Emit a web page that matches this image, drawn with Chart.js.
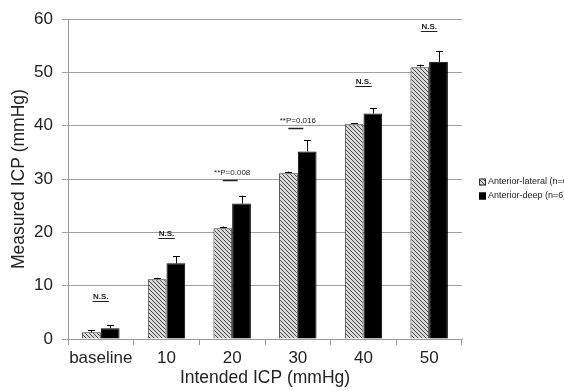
<!DOCTYPE html>
<html>
<head>
<meta charset="utf-8">
<script src="https://cdn.jsdelivr.net/npm/chart.js@4.4.1/dist/chart.umd.min.js"></script>
<style>
  html, body { margin: 0; padding: 0; background: #ffffff; }
  #wrap { width: 564px; height: 391px; }
</style>
</head>
<body>
<div id="wrap"><canvas id="c" width="564" height="391"></canvas></div>
<script>
// ---- data ----
const categories = ['baseline', '10', '20', '30', '40', '50'];
const seriesNames = ['Anterior-lateral (n=6)', 'Anterior-deep (n=6)'];
const lateralMean = [1.25, 11.2, 20.8, 31.1, 40.3, 51.0];
const lateralErr  = [0.4, 0.3, 0.3, 0.3, 0.2, 0.5];
const deepMean    = [2.0, 14.2, 25.4, 35.2, 42.3, 52.0];
const deepErr     = [0.6, 1.3, 1.5, 2.1, 1.0, 2.0];
const sigLabels   = ['N.S.', 'N.S.', '**P=0.008', '**P=0.016', 'N.S.', 'N.S.'];
const sigLevel    = [7.2, 19.0, 29.8, 39.6, 47.5, 57.7];
const yTicks      = [0, 10, 20, 30, 40, 50, 60];

const FONT = '"Liberation Sans", Arial, sans-serif';

// hatch pattern
function makeHatch() {
  const p = document.createElement('canvas');
  p.width = 4; p.height = 4;
  const g = p.getContext('2d');
  g.fillStyle = '#dadada';
  g.fillRect(0, 0, 4, 4);
  g.strokeStyle = '#444';
  g.lineWidth = 1;
  g.beginPath();
  g.moveTo(-1, -1); g.lineTo(5, 5);
  g.moveTo(-1, 3); g.lineTo(1, 5);
  g.moveTo(3, -1); g.lineTo(5, 1);
  g.stroke();
  return document.getElementById('c').getContext('2d').createPattern(p, 'repeat');
}
const hatch = makeHatch();

const errorBars = {
  id: 'errorBars',
  afterDatasetsDraw(chart) {
    const ctx = chart.ctx;
    const y = chart.scales.y;
    const errs = [lateralErr, deepErr];
    ctx.save();
    chart.data.datasets.forEach((ds, di) => {
      const meta = chart.getDatasetMeta(di);
      meta.data.forEach((el, i) => {
        const top = y.getPixelForValue(ds.data[i] + errs[di][i]);
        ctx.strokeStyle = '#000';
        ctx.lineWidth = 1;
        ctx.beginPath();
        ctx.moveTo(Math.round(el.x) + 0.5, el.y);
        ctx.lineTo(Math.round(el.x) + 0.5, top);
        ctx.moveTo(Math.round(el.x) - 3, Math.round(top) + 0.5);
        ctx.lineTo(Math.round(el.x) + 4, Math.round(top) + 0.5);
        ctx.stroke();
      });
    });
    ctx.restore();
  }
};

const sigMarks = {
  id: 'sigMarks',
  afterDatasetsDraw(chart) {
    const ctx = chart.ctx;
    const x = chart.scales.x, y = chart.scales.y;
    ctx.save();
    ctx.fillStyle = '#222';
    ctx.strokeStyle = '#222';
    ctx.textAlign = 'center';
    ctx.textBaseline = 'alphabetic';
    sigLabels.forEach((lab, i) => {
      const cx = x.getPixelForValue(i);
      const ly = Math.round(y.getPixelForValue(sigLevel[i]));
      const isNS = lab === 'N.S.';
      ctx.font = (isNS ? 'bold ' : '') + '8px ' + FONT;
      ctx.fillText(lab, cx, ly - (isNS ? 2 : 5));
      const w = isNS ? ctx.measureText(lab).width + 1 : 15;
      const lx = isNS ? cx : cx - 2;
      ctx.lineWidth = isNS ? 1 : 1.5;
      ctx.beginPath();
      ctx.moveTo(lx - w / 2, ly + 0.5);
      ctx.lineTo(lx + w / 2, ly + 0.5);
      ctx.stroke();
    });
    ctx.restore();
  }
};

const sideLegend = {
  id: 'sideLegend',
  afterDraw(chart) {
    const ctx = chart.ctx;
    const left = chart.chartArea.right + 17;
    const top0 = 182;
    ctx.save();
    ctx.font = '9px ' + FONT;
    ctx.textBaseline = 'middle';
    ctx.textAlign = 'left';
    chart.data.datasets.forEach((ds, i) => {
      const cy = top0 + i * 14;
      ctx.fillStyle = ds.backgroundColor;
      ctx.fillRect(left, cy - 3.5, 7, 7);
      ctx.strokeStyle = ds.borderColor;
      ctx.lineWidth = 1;
      ctx.strokeRect(left + 0.5, cy - 3, 6, 6);
      ctx.fillStyle = '#222';
      ctx.fillText(ds.label, left + 9, cy);
    });
    ctx.restore();
  }
};

new Chart(document.getElementById('c'), {
  type: 'bar',
  data: {
    labels: categories,
    datasets: [
      { label: seriesNames[0], data: lateralMean, backgroundColor: hatch, borderColor: '#333', borderWidth: 1 },
      { label: seriesNames[1], data: deepMean, backgroundColor: '#000', borderColor: '#000', borderWidth: 1 }
    ]
  },
  options: {
    responsive: false,
    devicePixelRatio: 1,
    animation: false,
    layout: { padding: { left: 1, top: 4, right: 102, bottom: 0 } },
    datasets: { bar: { categoryPercentage: 0.57, barPercentage: 1.0 } },
    plugins: {
      legend: { display: false },
      tooltip: { enabled: false }
    },
    scales: {
      x: {
        afterFit(s) { s.height = 52; },
        grid: { drawOnChartArea: false, offset: true, tickLength: 6, color: '#999' },
        border: { color: '#999' },
        ticks: { color: '#222', padding: 3, maxRotation: 0, minRotation: 0, autoSkip: false,
                 font: { size: 17, family: FONT } },
        title: { display: true, text: 'Intended ICP (mmHg)', color: '#222', padding: { top: 0, bottom: 2.5 },
                 font: { size: 17.5, family: FONT } }
      },
      y: {
        min: 0, max: 60,
        afterFit(s) { s.width = 67; },
        afterBuildTicks(s) { s.ticks = yTicks.map(v => ({ value: v })); },
        grid: { color: '#a0a0a0', tickLength: 6 },
        border: { color: '#999' },
        ticks: { color: '#222', padding: 9, font: { size: 17, family: FONT } },
        title: { display: true, text: 'Measured ICP (mmHg)', color: '#222', padding: { top: 7.5, bottom: 0 },
                 font: { size: 17.5, family: FONT } }
      }
    }
  },
  plugins: [errorBars, sigMarks, sideLegend]
});
</script>
</body>
</html>
